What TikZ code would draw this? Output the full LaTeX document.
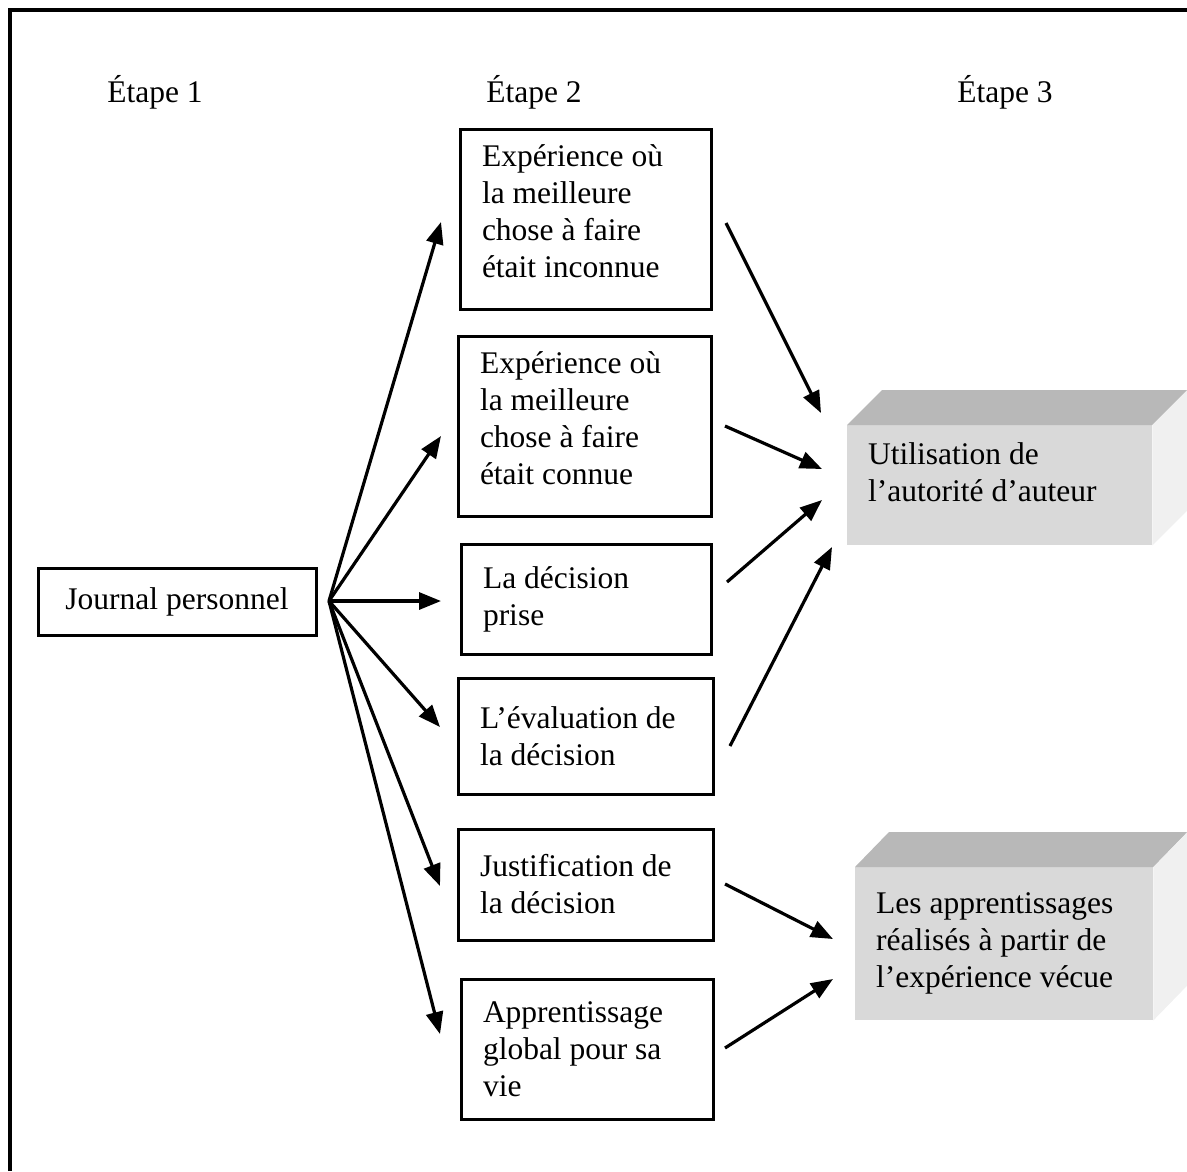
\documentclass[tikz,border=0pt]{standalone}
\usepackage{fontspec}
\setmainfont{Liberation Serif}
\usetikzlibrary{arrows.meta}
\definecolor{frontgray}{gray}{0.85}
\definecolor{topgray}{gray}{0.72}
\definecolor{sidegray}{gray}{0.94}
\begin{document}
\begin{tikzpicture}[x=1pt,y=-1pt,
  every node/.style={font=\fontsize{31.5}{37}\selectfont},
  box/.style={draw, line width=3pt, inner xsep=22pt, inner ysep=0pt, align=flush left},
  arr/.style={line width=3.2pt, -{Triangle[length=22pt,width=17pt]}},
  front/.style={fill=frontgray, inner xsep=21pt, inner ysep=0pt, align=flush left},
  stagelabel/.style={inner sep=0pt}]
\useasboundingbox (0,0) rectangle (1187,1171);
% frame
\draw[line width=3.5pt] (10,1171) -- (10,10) -- (1187,10);
% stage labels
\node[stagelabel] (s1) at (155,92) {Étape 1};
\node[stagelabel] (s2) at (534,92) {Étape 2};
\node[stagelabel] (s3) at (1005,92) {Étape 3};
% step 1
\node[box, minimum width=278pt, minimum height=67pt, align=center] (J) at (177,601.5) {Journal personnel};
% step 2
\node[box, minimum width=251pt, minimum height=180pt, text width=207pt] (A) at (585.5,219) {Expérience où\\la meilleure\\chose à faire\\était inconnue\\[-22pt]\mbox{}};
\node[box, minimum width=253pt, minimum height=180pt, text width=209pt] (B) at (584.5,426) {Expérience où\\la meilleure\\chose à faire\\était connue\\[-22pt]\mbox{}};
\node[box, minimum width=250pt, minimum height=110pt, text width=206pt] (C) at (586,599) {La décision\\prise};
\node[box, minimum width=255pt, minimum height=116pt, text width=211pt] (D) at (585.5,736) {L’évaluation de\\la décision};
\node[box, minimum width=255pt, minimum height=111pt, text width=211pt] (E) at (585.5,884.5) {Justification de\\la décision};
\node[box, minimum width=252pt, minimum height=140pt, text width=208pt] (F) at (587,1049) {Apprentissage\\global pour sa\\vie};
% step 3 (3D boxes)
\node[front, anchor=north west, minimum width=305pt, minimum height=120pt, text width=263pt] (U) at (847,425) {Utilisation de\\l’autorité d’auteur\\[-10pt]\mbox{}};
\fill[topgray] (U.north west) -- ++(35,-35) -- ([shift={(35,-35)}]U.north east) -- (U.north east) -- cycle;
\fill[sidegray] (U.north east) -- ++(35,-35) -- ([shift={(35,-35)}]U.south east) -- (U.south east) -- cycle;
\node[front, anchor=north west, minimum width=298pt, minimum height=153pt, text width=256pt] (L) at (855,867) {Les apprentissages\\réalisés à partir de\\l’expérience vécue};
\fill[topgray] (L.north west) -- ++(34,-35) -- ([shift={(34,-35)}]L.north east) -- (L.north east) -- cycle;
\fill[sidegray] (L.north east) -- ++(34,-35) -- ([shift={(34,-35)}]L.south east) -- (L.south east) -- cycle;
% fan-out coordinates
\coordinate (src) at (329,601);
\coordinate (tA) at (441,222);
\coordinate (tB) at (441,436);
\coordinate (tC) at (441,601);
\coordinate (tD) at (440,727);
\coordinate (tE) at (440,886);
\coordinate (tF) at (440,1034);
\draw[arr] (src) -- (tA);
\draw[arr] (src) -- (tB);
\draw[arr] (src) -- (tC);
\draw[arr] (src) -- (tD);
\draw[arr] (src) -- (tE);
\draw[arr] (src) -- (tF);
% converging arrows
\coordinate (oA) at (726,223);  \coordinate (uA) at (821,413);
\coordinate (oB) at (725,426);  \coordinate (uB) at (822,469);
\coordinate (oC) at (727,582);  \coordinate (uC) at (822,500);
\coordinate (oD) at (730,746);  \coordinate (uD) at (832,547);
\coordinate (oE) at (725,884);  \coordinate (lE) at (833,939);
\coordinate (oF) at (725,1048); \coordinate (lF) at (833,979);
\draw[arr] (oA) -- (uA);
\draw[arr] (oB) -- (uB);
\draw[arr] (oC) -- (uC);
\draw[arr] (oD) -- (uD);
\draw[arr] (oE) -- (lE);
\draw[arr] (oF) -- (lF);
\end{tikzpicture}
\end{document}
